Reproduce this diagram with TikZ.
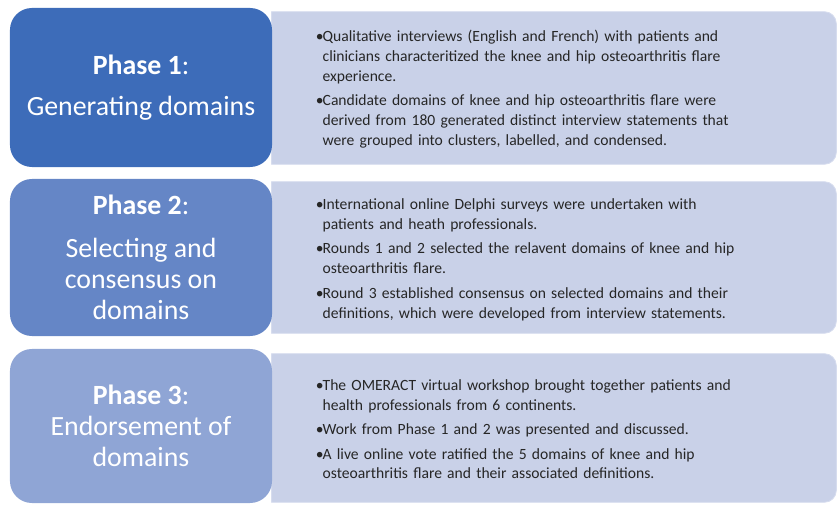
\documentclass[tikz,border=0pt]{standalone}
\usepackage{fontspec}
\setmainfont{Carlito}
\usetikzlibrary{positioning}

\definecolor{phaseone}{HTML}{3D6CB9}
\definecolor{phasetwo}{HTML}{6586C6}
\definecolor{phasethree}{HTML}{8FA5D5}
\definecolor{panelblue}{HTML}{C9D1E8}
\definecolor{paneledge}{HTML}{D6DCEE}
\definecolor{textdark}{HTML}{262626}

\tikzset{
  phase/.style={rectangle, rounded corners=0.55cm, minimum width=6.55cm, inner sep=0pt,
    text=white, align=center, font=\fontsize{19.8}{22}\selectfont},
  info/.style={rectangle, minimum width=14.1cm, inner sep=0pt},
  panel/.style={fill=panelblue, draw=paneledge, line width=0.6pt},
  infotext/.style={anchor=west, inner sep=0pt, text width=12.5cm, align=left,
    text=textdark, font=\fontsize{11.1}{14.2}\selectfont}
}
\newcommand{\bulletline}{\par\hangindent=4.8pt\hangafter=1\noindent\makebox[4.8pt][l]{•}}
\newcommand{\panelshape}[1]{\path[panel] (#1.south west) -- (#1.north west)
  [rounded corners=0.3cm] -- (#1.north east) -- (#1.south east) [sharp corners] -- cycle;}

\begin{document}
\begin{tikzpicture}[x=0.025cm, y=-0.025cm]
\useasboundingbox (0, 0) rectangle (838, 505);

% right hand panels
\path (554, 88) node[info, minimum height=3.8cm] (infoA) {};
\path (554, 257.5) node[info, minimum height=3.775cm] (infoB) {};
\path (554, 428) node[info, minimum height=3.7cm] (infoC) {};
\panelshape{infoA}
\panelshape{infoB}
\panelshape{infoC}

% phase boxes
\path (141, 87.5) node[phase, fill=phaseone, minimum height=3.975cm] (phaseA)
  {\textbf{Phase 1}:\\[7pt]Generating domains};
\path (141, 257.5) node[phase, fill=phasetwo, minimum height=3.925cm] (phaseB)
  {\textbf{Phase 2}:\\[8.5pt]Selecting and\\consensus on\\domains};
\path (141, 426) node[phase, fill=phasethree, minimum height=3.85cm] (phaseC)
  {\textbf{Phase 3}:\\Endorsement of\\domains};

% panel texts
\node[infotext] (textA) at ([xshift=1.1cm, yshift=0.13cm]infoA.west) {\setlength{\parskip}{3pt}%
  \bulletline Qualitative interviews (English and French) with patients and\newline
  clinicians characteritized the knee and hip osteoarthritis flare\newline
  experience.
  \bulletline Candidate domains of knee and hip osteoarthritis flare were\newline
  derived from 180 generated distinct interview statements that\newline
  were grouped into clusters, labelled, and condensed.\par};
\node[infotext] (textB) at ([xshift=1.1cm, yshift=0.11cm]infoB.west) {\setlength{\parskip}{3pt}%
  \bulletline International online Delphi surveys were undertaken with\newline
  patients and heath professionals.
  \bulletline Rounds 1 and 2 selected the relavent domains of knee and hip\newline
  osteoarthritis flare.
  \bulletline Round 3 established consensus on selected domains and their\newline
  definitions, which were developed from interview statements.\par};
\node[infotext] (textC) at ([xshift=1.1cm, yshift=0.13cm]infoC.west) {\setlength{\parskip}{3pt}%
  \bulletline The OMERACT virtual workshop brought together patients and\newline
  health professionals from 6 continents.
  \bulletline Work from Phase 1 and 2 was presented and discussed.
  \bulletline A live online vote ratified the 5 domains of knee and hip\newline
  osteoarthritis flare and their associated definitions.\par};
\end{tikzpicture}
\end{document}
